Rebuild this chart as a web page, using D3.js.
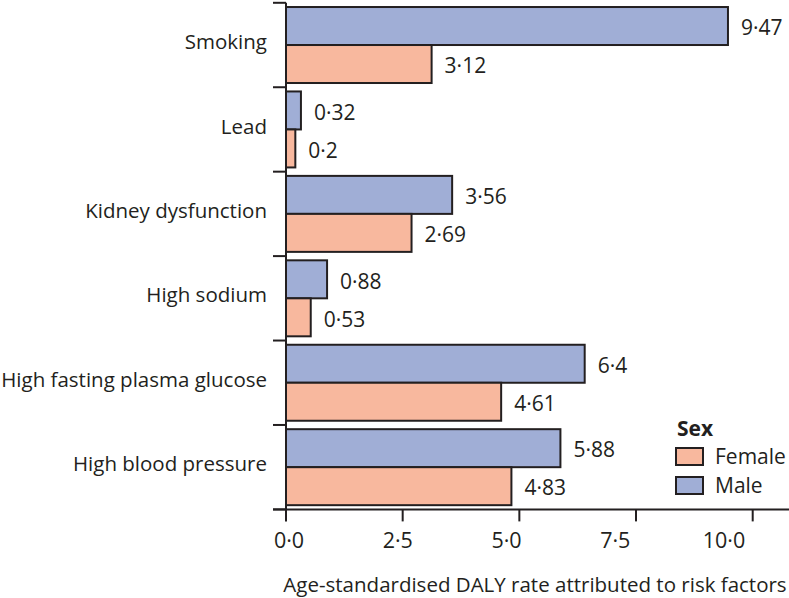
<!DOCTYPE html>
<html lang="en">
<head>
    <meta charset="UTF-8">
    <title>DALY risk factors</title>
    <style>
        body { margin: 0; background: #fff; }
        text { font-family: "Open Sans", "Noto Sans", sans-serif; fill: #231f20; }
    </style>
</head>
<body></body>
<script src="https://cdn.jsdelivr.net/npm/d3@7"></script>
<script>
    const categories = ["Smoking", "Lead", "Kidney dysfunction", "High sodium",
                        "High fasting plasma glucose", "High blood pressure"];
    const male = [9.47, 0.32, 3.56, 0.88, 6.4, 5.88];
    const female = [3.12, 0.2, 2.69, 0.53, 4.61, 4.83];
    const xTicks = [0, 2.5, 5, 7.5, 10];
    const sexes = ["Male", "Female"];
    const legendItems = ["Female", "Male"];

    const width = 789, height = 598;
    const colors = { Male: "#a0aed6", Female: "#f8b89e" };
    const ink = "#231f20";
    const fmt = v => String(v).replace(".", "·");

    const svg = d3.select("body").append("svg")
        .attr("width", width)
        .attr("height", height);

    const x = d3.scaleLinear().domain([0, 10]).range([286, 752.7]);
    // the tick labels in the original sit on a slightly tighter spacing than the ticks
    const xLab = d3.scaleLinear().domain([0, 10]).range([289, 724]);
    const y = d3.scaleBand().domain(categories).range([2.8, 509.4])
        .paddingInner(0.1).paddingOuter(0.05);
    const y2 = d3.scaleBand().domain(sexes).range([0, y.bandwidth()]);

    const rows = categories.map((c, i) => ({ cat: c, Male: male[i], Female: female[i] }));

    // bars
    const g = svg.selectAll("g.row").data(rows).enter().append("g")
        .attr("transform", d => `translate(0,${y(d.cat)})`);

    g.selectAll("rect")
        .data(d => sexes.map(s => ({ sex: s, v: d[s] })))
        .enter().append("rect")
        .attr("x", x(0))
        .attr("y", d => y2(d.sex))
        .attr("width", d => x(d.v) - x(0))
        .attr("height", y2.bandwidth())
        .style("fill", d => colors[d.sex])
        .style("stroke", ink)
        .style("stroke-width", 2);

    g.selectAll("text.val")
        .data(d => sexes.map(s => ({ sex: s, v: d[s] })))
        .enter().append("text")
        .attr("class", "val")
        .attr("x", d => x(d.v) + 13)
        .attr("y", d => y2(d.sex) + y2.bandwidth() / 2)
        .attr("dy", "0.44em")
        .style("font-size", "21px")
        .text(d => fmt(d.v));

    // y axis
    const step = y.step();
    const boundaries = d3.range(categories.length + 1).map(i => y.range()[0] + i * step);
    svg.append("line")
        .attr("x1", x(0)).attr("x2", x(0))
        .attr("y1", y.range()[0]).attr("y2", y.range()[1])
        .style("stroke", ink).style("stroke-width", 2);
    svg.selectAll("line.ytick").data(boundaries).enter().append("line")
        .attr("x1", 273).attr("x2", x(0))
        .attr("y1", d => d).attr("y2", d => d)
        .style("stroke", ink).style("stroke-width", 2);
    svg.selectAll("text.cat").data(categories).enter().append("text")
        .attr("x", 267)
        .attr("y", d => y(d) + y.bandwidth() / 2)
        .attr("dy", "0.2em")
        .attr("text-anchor", "end")
        .style("font-size", "20.5px")
        .text(d => d);

    // x axis
    const axisY = y.range()[1];
    svg.append("line")
        .attr("x1", 273).attr("x2", width)
        .attr("y1", axisY).attr("y2", axisY)
        .style("stroke", ink).style("stroke-width", 2);
    svg.selectAll("line.xtick").data(xTicks).enter().append("line")
        .attr("x1", d => x(d)).attr("x2", d => x(d))
        .attr("y1", axisY).attr("y2", axisY + 12)
        .style("stroke", ink).style("stroke-width", 2);
    svg.selectAll("text.xt").data(xTicks).enter().append("text")
        .attr("x", d => xLab(d))
        .attr("y", 547.5)
        .attr("text-anchor", "middle")
        .style("font-size", "21.5px")
        .text(d => d3.format(".1f")(d).replace(".", "·"));
    svg.append("text")
        .attr("x", 535).attr("y", 591.5)
        .attr("text-anchor", "middle")
        .style("font-size", "20.5px")
        .text("Age-standardised DALY rate attributed to risk factors");

    // legend
    svg.append("text")
        .attr("x", 677).attr("y", 436)
        .style("font-size", "21px").style("font-weight", "bold")
        .text("Sex");
    const lg = svg.selectAll("g.leg").data(legendItems).enter().append("g")
        .attr("transform", (d, i) => `translate(676,${448 + i * 29})`);
    lg.append("rect")
        .attr("width", 27).attr("height", 17)
        .style("fill", d => colors[d])
        .style("stroke", ink).style("stroke-width", 2);
    lg.append("text")
        .attr("x", 39).attr("y", 16)
        .style("font-size", "21px")
        .text(d => d);
</script>
</html>
